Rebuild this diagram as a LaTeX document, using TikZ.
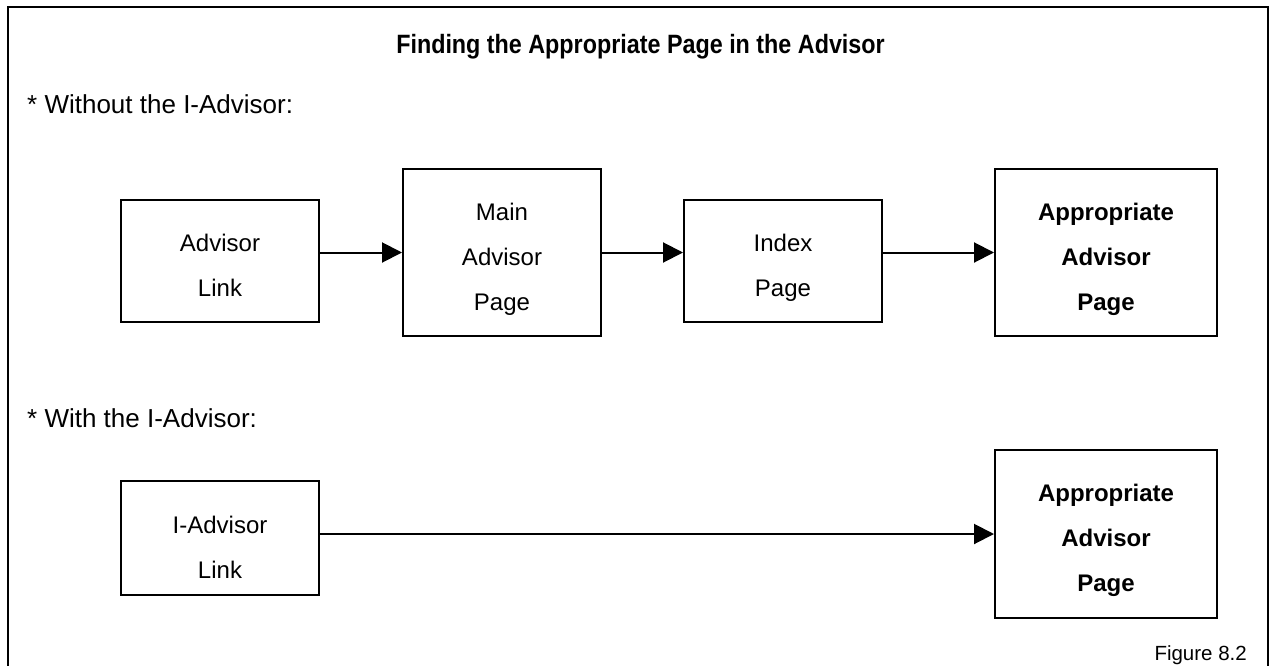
\documentclass[tikz,border=0pt]{standalone}
\usepackage{fontspec}
\setmainfont{Liberation Sans}
\usetikzlibrary{arrows.meta}
\begin{document}
\begin{tikzpicture}[x=1pt,y=-1pt,
  box/.style={draw,line width=2pt,inner sep=0pt},
  boxtext/.style={align=center,inner sep=0pt,font=\fontsize{24}{45}\selectfont},
  boldtext/.style={boxtext,font=\bfseries\fontsize{24}{45}\selectfont},
  link/.style={line width=2pt,-{Triangle[length=20pt,width=20pt]}},
  lbl/.style={anchor=west,inner sep=0pt,font=\fontsize{26}{30}\selectfont}]
\useasboundingbox (0,0) rectangle (1276,666);
% outer frame, open at the bottom
\draw[line width=2.5pt] (8,666) -- (8,7) -- (1268,7) -- (1268,666);

\node[inner sep=0pt,font=\bfseries\fontsize{26.5}{30}\selectfont] (title) at (640.5,47)
  {\scalebox{0.88}[1]{Finding the Appropriate Page in the Advisor}};

% first route
\node[lbl] (without) at (27,104) {* Without the I-Advisor:};
\node[box,minimum width=198pt,minimum height=122pt] (adv) at (220,261) {};
\node[box,minimum width=198pt,minimum height=167pt] (main) at (502,252.5) {};
\node[box,minimum width=198pt,minimum height=122pt] (idx) at (783,261) {};
\node[box,minimum width=222pt,minimum height=167pt] (app1) at (1106,252.5) {};
\node[boxtext,yshift=-4pt] (advt) at (adv.center) {Advisor\\Link};
\node[boxtext,yshift=-7pt] (maint) at (main.center) {Main\\Advisor\\Page};
\node[boxtext,yshift=-7pt] (idxt) at (idx.center) {Index\\Page};
\node[boldtext,yshift=-7pt] (app1t) at (app1.center) {Appropriate\\Advisor\\Page};
\draw[link] (adv.east |- main.west) -- (main.west);
\draw[link] (main.east) -- (main.east -| idx.west);
\draw[link] (idx.east |- app1.west) -- (app1.west);

% second route
\node[lbl] (with) at (27,418) {* With the I-Advisor:};
\node[box,minimum width=198pt,minimum height=114pt] (ilink) at (220,538) {};
\node[box,minimum width=222pt,minimum height=168pt] (app2) at (1106,534) {};
\node[boxtext,yshift=-9pt] (ilinkt) at (ilink.center) {I-Advisor\\Link};
\node[boldtext,yshift=-6pt] (app2t) at (app2.center) {Appropriate\\Advisor\\Page};
\draw[link] (ilink.east |- app2.west) -- (app2.west);

\node[anchor=east,inner sep=0pt,font=\fontsize{20.5}{24}\selectfont] (fig) at (1247,655) {Figure 8.2};
\end{tikzpicture}
\end{document}
